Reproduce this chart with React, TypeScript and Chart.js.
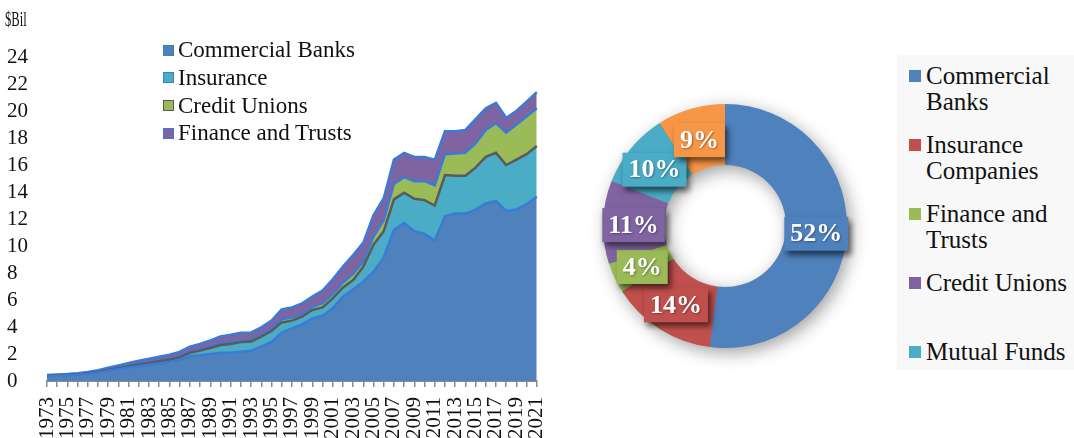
import { useEffect, useRef } from "react";
import { Chart, registerables } from "chart.js";

Chart.register(...registerables);

const years = [
  "1973", "1974", "1975", "1976", "1977", "1978", "1979", "1980", "1981", "1982",
  "1983", "1984", "1985", "1986", "1987", "1988", "1989", "1990", "1991", "1992",
  "1993", "1994", "1995", "1996", "1997", "1998", "1999", "2000", "2001", "2002",
  "2003", "2004", "2005", "2006", "2007", "2008", "2009", "2010", "2011", "2012",
  "2013", "2014", "2015", "2016", "2017", "2018", "2019", "2020", "2021",
];

const commercialBanks = [
  0.35, 0.38, 0.42, 0.47, 0.53, 0.63, 0.76, 0.88, 1.0, 1.1,
  1.2, 1.3, 1.4, 1.55, 1.85, 1.9, 2.0, 2.1, 2.1, 2.17,
  2.25, 2.54, 2.9, 3.58, 3.9, 4.2, 4.64, 4.84, 5.38, 6.25,
  6.8, 7.36, 8.1, 9.15, 11.2, 11.7, 11.1, 10.9, 10.4, 12.2,
  12.4, 12.4, 12.7, 13.15, 13.35, 12.6, 12.7, 13.1, 13.65,
];
const insurance = [
  0.03, 0.03, 0.03, 0.03, 0.04, 0.05, 0.06, 0.07, 0.1, 0.12,
  0.14, 0.16, 0.18, 0.2, 0.25, 0.35, 0.45, 0.57, 0.64, 0.72,
  0.67, 0.74, 0.8, 0.76, 0.57, 0.56, 0.62, 0.61, 0.74, 0.68,
  0.68, 1.11, 2.0, 1.95, 2.25, 2.25, 2.4, 2.5, 2.6, 3.05,
  2.8, 2.8, 3.1, 3.45, 3.55, 3.4, 3.7, 3.7, 3.75,
];
const creditUnions = [
  0.02, 0.02, 0.02, 0.02, 0.02, 0.02, 0.03, 0.03, 0.03, 0.04,
  0.04, 0.04, 0.04, 0.05, 0.05, 0.07, 0.1, 0.13, 0.13, 0.11,
  0.1, 0.12, 0.15, 0.23, 0.23, 0.18, 0.24, 0.3, 0.32, 0.35,
  0.45, 0.37, 0.6, 0.8, 1.15, 1.15, 1.3, 1.4, 1.5, 1.55,
  1.65, 1.7, 1.8, 2.0, 2.2, 2.4, 2.6, 2.8, 2.8,
];
const financeTrusts = [
  0.05, 0.05, 0.05, 0.06, 0.07, 0.1, 0.13, 0.17, 0.2, 0.24,
  0.27, 0.3, 0.33, 0.35, 0.4, 0.43, 0.45, 0.5, 0.56, 0.58,
  0.58, 0.57, 0.62, 0.73, 0.75, 0.81, 0.75, 0.95, 1.09, 1.19,
  1.4, 1.41, 1.6, 1.65, 1.8, 1.8, 1.8, 1.8, 1.9, 1.7,
  1.65, 1.7, 1.8, 1.6, 1.5, 1.1, 1.0, 1.1, 1.2,
];

const areaLabels = ["Commercial Banks", "Insurance", "Credit Unions", "Finance and Trusts"];
const areaFills = ["#4F81BD", "#4BACC6", "#9BBB59", "#8064A2"];
const areaLines = ["#3A7BD5", "#5A5A5A", "#3A7BD5", "#3A7BD5"];
const areaLegendBorders = ["#3A7BD5", "#3A7BD5", "#5A5A5A", "#3A7BD5"];

const pieLabels = [
  "Commercial Banks",
  "Insurance Companies",
  "Finance and Trusts",
  "Credit Unions",
  "Mutual Funds",
  "Other",
];
const pieShares = [52, 14, 4, 11, 10, 9];
const pieColors = ["#4F81BD", "#C0504D", "#9BBB59", "#8064A2", "#4BACC6", "#F79646"];

const SERIF = '"Liberation Serif", "Times New Roman", serif';

const ringShadow = {
  id: "ringShadow",
  beforeDatasetsDraw(chart: any) {
    const arc = chart.getDatasetMeta(0).data[0];
    if (!arc) return;
    const { x, y, outerRadius, innerRadius } = arc.getProps(
      ["x", "y", "outerRadius", "innerRadius"],
      true
    );
    const ctx = chart.ctx;
    ctx.save();
    ctx.shadowColor = "rgba(0,0,0,0.4)";
    ctx.shadowBlur = 18;
    ctx.shadowOffsetX = 4;
    ctx.shadowOffsetY = 5;
    ctx.beginPath();
    ctx.arc(x, y, outerRadius - 1, 0, Math.PI * 2);
    ctx.arc(x, y, innerRadius + 1, 0, Math.PI * 2, true);
    ctx.closePath();
    ctx.fillStyle = "#777";
    ctx.fill();
    ctx.restore();
  },
};

const sliceLabels = {
  id: "sliceLabels",
  afterDatasetsDraw(chart: any) {
    const meta = chart.getDatasetMeta(0);
    const ctx = chart.ctx;
    ctx.save();
    ctx.font = `bold 26px ${SERIF}`;
    meta.data.forEach((el: any, i: number) => {
      const { x, y, startAngle, endAngle, outerRadius, innerRadius } = el.getProps(
        ["x", "y", "startAngle", "endAngle", "outerRadius", "innerRadius"],
        true
      );
      const mid = (startAngle + endAngle) / 2;
      const r = (outerRadius + innerRadius) / 2;
      const cx = x + Math.cos(mid) * r;
      const cy = y + Math.sin(mid) * r + 2;
      const text = `${pieShares[i]}%`;
      const w = ctx.measureText(text).width + 12;
      const h = 34;
      ctx.save();
      ctx.shadowColor = "rgba(0,0,0,0.6)";
      ctx.shadowBlur = 6;
      ctx.shadowOffsetX = 3;
      ctx.shadowOffsetY = 4;
      ctx.fillStyle = pieColors[i];
      ctx.fillRect(cx - w / 2, cy - h / 2, w, h);
      ctx.restore();
      ctx.save();
      ctx.fillStyle = "#ffffff";
      ctx.textAlign = "center";
      ctx.textBaseline = "middle";
      ctx.shadowColor = "rgba(0,0,0,0.35)";
      ctx.shadowBlur = 2;
      ctx.shadowOffsetX = 1;
      ctx.shadowOffsetY = 1;
      ctx.fillText(text, cx, cy + 1);
      ctx.restore();
    });
    ctx.restore();
  },
};

export default function App() {
  const areaRef = useRef<HTMLCanvasElement>(null);
  const pieRef = useRef<HTMLCanvasElement>(null);

  useEffect(() => {
    const seriesData = [commercialBanks, insurance, creditUnions, financeTrusts];
    const area = new Chart(areaRef.current as HTMLCanvasElement, {
      type: "line",
      data: {
        labels: years,
        datasets: seriesData.map((d, i) => ({
          label: areaLabels[i],
          data: d,
          backgroundColor: areaFills[i],
          borderColor: areaLines[i],
          borderWidth: 2.5,
          fill: i === 0 ? "origin" : "-1",
          pointRadius: 0,
          tension: 0,
        })),
      },
      options: {
        animation: false,
        responsive: false,
        layout: { padding: { left: 7, top: 57, right: 0, bottom: 0 } },
        plugins: { legend: { display: false }, tooltip: { enabled: false } },
        scales: {
          x: {
            offset: false,
            grid: {
              display: true,
              drawOnChartArea: false,
              drawTicks: true,
              tickLength: 6,
              color: "#8C8C8C",
              lineWidth: 1.5,
            },
            border: { display: true, color: "#8C8C8C", width: 2 },
            ticks: {
              autoSkip: false,
              minRotation: 90,
              maxRotation: 90,
              padding: 10,
              color: "#111",
              font: { family: SERIF, size: 21 },
              callback: (_v: any, i: number) => (i % 2 === 0 ? years[i] : ""),
            },
            afterFit: (s: any) => {
              s.height = 60;
            },
          },
          y: {
            stacked: true,
            min: 0,
            max: 24,
            grid: { display: false },
            border: { display: false },
            ticks: {
              stepSize: 2,
              autoSkip: false,
              crossAlign: "far",
              padding: 0,
              color: "#111",
              font: { family: SERIF, size: 21 },
            },
            afterFit: (s: any) => {
              s.width = 40;
            },
          },
        },
      } as any,
    });

    const pie = new Chart(pieRef.current as HTMLCanvasElement, {
      type: "doughnut",
      data: {
        labels: pieLabels,
        datasets: [
          {
            data: pieShares,
            backgroundColor: pieColors,
            borderWidth: 0,
            hoverOffset: 0,
          },
        ],
      },
      options: {
        animation: false,
        responsive: false,
        cutout: "50%",
        layout: { padding: { left: 23, right: 23, top: 104, bottom: 90 } },
        plugins: { legend: { display: false }, tooltip: { enabled: false } },
      } as any,
      plugins: [ringShadow, sliceLabels],
    });

    return () => {
      area.destroy();
      pie.destroy();
    };
  }, []);

  return (
    <div
      style={{
        position: "absolute",
        left: 0,
        top: 0,
        width: 1074,
        height: 438,
        overflow: "hidden",
        background: "#ffffff",
        fontFamily: SERIF,
        color: "#111",
      }}
    >
      <canvas
        ref={areaRef}
        width={572}
        height={441}
        style={{ position: "absolute", left: 0, top: 0, width: 572, height: 441 }}
      />
      <div
        style={{
          position: "absolute",
          left: 5,
          top: 8,
          fontSize: 21,
          lineHeight: "22px",
          transform: "scaleX(0.6)",
          transformOrigin: "left top",
          whiteSpace: "nowrap",
        }}
      >
        $Bil
      </div>
      <div style={{ position: "absolute", left: 163, top: 36 }}>
        {areaLabels.map((l, i) => (
          <div
            key={l}
            style={{
              position: "absolute",
              left: 0,
              top: i * 27.8,
              height: 28,
              display: "flex",
              alignItems: "center",
              whiteSpace: "nowrap",
              fontSize: 23,
            }}
          >
            <span
              style={{
                display: "inline-block",
                width: 9,
                height: 9,
                background: areaFills[i],
                border: `1.5px solid ${areaLegendBorders[i]}`,
                marginRight: 4,
              }}
            />
            <span>{l}</span>
          </div>
        ))}
      </div>
      <canvas
        ref={pieRef}
        width={290}
        height={438}
        style={{ position: "absolute", left: 580, top: 0, width: 290, height: 438 }}
      />
      <div
        style={{
          position: "absolute",
          left: 897,
          top: 55,
          width: 177,
          height: 315,
          background: "#F8F8F8",
          overflow: "hidden",
        }}
      >
        {pieLabels.map((l, i) => (
          <div
            key={l}
            style={{ position: "absolute", left: 12, top: 8 + i * 69, width: 165 }}
          >
            <span
              style={{
                position: "absolute",
                left: 0,
                top: 7,
                width: 12,
                height: 12,
                background: pieColors[i],
              }}
            />
            <div
              style={{
                position: "absolute",
                left: 17,
                top: 0,
                width: 148,
                fontSize: 25,
                lineHeight: "26px",
              }}
            >
              {l}
            </div>
          </div>
        ))}
      </div>
    </div>
  );
}
